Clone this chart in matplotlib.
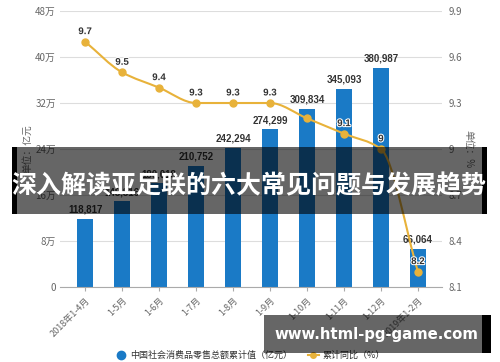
import matplotlib
matplotlib.use("Agg")
import matplotlib.pyplot as plt
import matplotlib.patheffects as pe
import numpy as np
from matplotlib.path import Path
from matplotlib.patches import PathPatch, Rectangle
from matplotlib.lines import Line2D

plt.rcParams['font.family'] = ['Noto Sans CJK SC', 'DejaVu Sans']

# data
categories = ['2018年1-4月', '1-5月', '1-6月', '1-7月', '1-8月',
              '1-9月', '1-10月', '1-11月', '1-12月', '2019年1-2月']
sales = [118817, 148816, 180018, 210752, 242294,
         274299, 309834, 345093, 380987, 66064]
growth = [9.7, 9.5, 9.4, 9.3, 9.3, 9.3, 9.2, 9.1, 9.0, 8.2]
growth_labels = ['9.7', '9.5', '9.4', '9.3', '9.3', '9.3', '', '9.1', '9', '8.2']
left_ticks = [0, 80000, 160000, 240000, 320000, 400000, 480000]
left_labels = ['0', '8万', '16万', '24万', '32万', '40万', '48万']
right_ticks = [8.1, 8.4, 8.7, 9.0, 9.3, 9.6, 9.9]
right_labels = ['8.1', '8.4', '8.7', '9', '9.3', '9.6', '9.9']

bar_color = '#1a7ac6'
line_color = '#e8b23a'
tick_color = '#666666'

fig = plt.figure(figsize=(5, 3.62), dpi=100)
ax = fig.add_axes([0.12, 0.2072, 0.764, 0.7624])
ax2 = ax.twinx()

x = np.arange(len(categories))

# bars
ax.bar(x, sales, width=0.45, color=bar_color, zorder=2)
for xi, v in zip(x, sales):
    ax.annotate(f'{v:,}', (xi, v), xytext=(0, 3), textcoords='offset points',
                ha='center', va='bottom', fontsize=7, fontweight='bold',
                family='Liberation Sans', color='#333333', zorder=5)

ax.set_ylim(0, 480000)
ax.set_xlim(-0.68, 9.65)
ax.set_yticks(left_ticks)
ax.set_yticklabels(left_labels)
ax.grid(axis='y', color='#dddddd', linewidth=0.8, zorder=0)
ax.set_axisbelow(True)
ax.set_xticks(x)
ax.set_xticklabels(categories, rotation=45, ha='right', rotation_mode='anchor')
ax.tick_params(axis='x', colors=tick_color, labelsize=6.5, length=3, color='#aaaaaa')
ax.tick_params(axis='y', colors=tick_color, labelsize=7, length=0, pad=3)
for s in ['top', 'right', 'left']:
    ax.spines[s].set_visible(False)
ax.spines['bottom'].set_color('#aaaaaa')
ax.set_ylabel('单位：亿元', fontsize=7, color=tick_color, labelpad=2)

# smooth line (monotone cubic tangents, drawn as bezier path)
y = np.array(growth)
d = np.diff(y)
m = np.zeros_like(y)
m[0] = d[0]
m[-1] = d[-1]
for i in range(1, len(y) - 1):
    if d[i - 1] * d[i] <= 0:
        m[i] = 0
    else:
        m[i] = 2 / (1 / d[i - 1] + 1 / d[i])
verts = [(x[0], y[0])]
codes = [Path.MOVETO]
for i in range(len(y) - 1):
    verts += [(x[i] + 1 / 3, y[i] + m[i] / 3),
              (x[i + 1] - 1 / 3, y[i + 1] - m[i + 1] / 3),
              (x[i + 1], y[i + 1])]
    codes += [Path.CURVE4] * 3
ax2.add_patch(PathPatch(Path(verts, codes), fill=False, edgecolor=line_color,
                        linewidth=1.5, zorder=3))
ax2.plot(x, y, 'o', color=line_color, markersize=5, zorder=4)
for xi, v, lab in zip(x, y, growth_labels):
    if lab:
        ax2.annotate(lab, (xi, v), xytext=(0, 4), textcoords='offset points',
                     ha='center', va='bottom', fontsize=7, fontweight='bold',
                     family='Liberation Sans', color='#333333', zorder=5,
                     path_effects=[pe.withStroke(linewidth=1.5, foreground='white')])

ax2.set_ylim(8.1, 9.9)
ax2.set_yticks(right_ticks)
ax2.set_yticklabels(right_labels)
ax2.tick_params(axis='y', colors=tick_color, labelsize=7, length=0, pad=5)
for s in ax2.spines.values():
    s.set_visible(False)
ax2.set_ylabel('单位：%', fontsize=7, color=tick_color, rotation=-90, labelpad=8)

# legend
handles = [Line2D([], [], marker='o', linestyle='none', color=bar_color, markersize=6),
           Line2D([], [], marker='o', color=line_color, markersize=4, linewidth=1.5)]
fig.legend(handles, ['中国社会消费品零售总额累计值（亿元）', '累计同比（%）'],
           loc='center', bbox_to_anchor=(0.5, 0.019), ncol=2, frameon=False,
           fontsize=6.5, labelcolor='#333333', handlelength=1.2, handletextpad=0.4,
           columnspacing=1.8)

# overlay banners
def px(x0, y0, x1, y1):
    return (x0 / 500, 1 - y1 / 362), (x1 - x0) / 500, (y1 - y0) / 362

for (x0, y0, x1, y1), col, a in [((17, 147, 482, 214), 'black', 0.6),
                                 ((12, 147, 17, 214), 'black', 1.0),
                                 ((482, 147, 487, 214), 'black', 1.0),
                                 ((264, 315, 482, 353), 'black', 0.6),
                                 ((482, 315, 491, 353), 'black', 1.0)]:
    xy, w, h = px(x0, y0, x1, y1)
    fig.patches.append(Rectangle(xy, w, h, transform=fig.transFigure,
                                 facecolor=col, alpha=a, edgecolor='none', zorder=10))

fig.text(249 / 500, 1 - 186 / 362, '深入解读亚足联的六大常见问题与发展趋势',
         ha='center', va='center', fontsize=18, fontweight='bold', color='white', zorder=11)
fig.text(376 / 500, 1 - 334 / 362, 'www.html-pg-game.com',
         ha='center', va='center', fontsize=10.7, fontweight='bold', color='white',
         family='DejaVu Sans', zorder=11)

fig.savefig('out.png', dpi=100)
